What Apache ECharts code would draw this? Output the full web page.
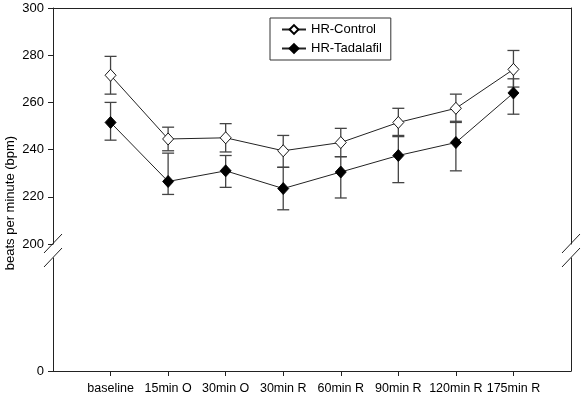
<!DOCTYPE html>
<html>
<head>
<meta charset="utf-8">
<script src="https://cdn.jsdelivr.net/npm/echarts@6/dist/echarts.min.js"></script>
<style>
html, body { margin: 0; padding: 0; background: #fff; }
#chart { width: 581px; height: 396px; }
</style>
</head>
<body>
<div id="chart"></div>
<script>
var categories = ['baseline', '15min O', '30min O', '30min R', '60min R', '90min R', '120min R', '175min R'];

var ctrlMean = [271.5, 244.5, 245, 239.5, 243, 251.5, 257.5, 274];
var ctrlHigh = [279.5, 249.5, 251, 246, 249, 257.5, 263.5, 282];
var ctrlLow  = [263.5, 239.5, 239, 232.5, 237, 246, 251.5, 266.5];

var tadMean = [251.5, 226.5, 231, 223.5, 230.5, 237.5, 243, 264];
var tadHigh = [260, 238.5, 237.5, 232.5, 237, 245.5, 252, 270];
var tadLow  = [244, 221, 224, 214.5, 219.5, 226, 231, 255];

var topTicks = [200, 300, 20];
var bottomTicks = [0];

// padded so first/last category sit one step in from the frame
var axisCats = [''].concat(categories, ['']);
var font = 'Liberation Sans, Arial, Helvetica, sans-serif';
var ink = '#222';

function points(arr) {
    return arr.map(function (v, i) { return [i + 1, v]; });
}
function bars(lo, hi) {
    return lo.map(function (v, i) { return [i + 1, v, hi[i]]; });
}

function errRender(params, api) {
    var x = api.value(0);
    var a = api.coord([x, api.value(1)]);
    var b = api.coord([x, api.value(2)]);
    var w = 6;
    var st = { stroke: '#444', lineWidth: 1.3 };
    return {
        type: 'group',
        children: [
            { type: 'line', shape: { x1: a[0], y1: a[1], x2: b[0], y2: b[1] }, style: st },
            { type: 'line', shape: { x1: a[0] - w, y1: a[1], x2: a[0] + w, y2: a[1] }, style: st },
            { type: 'line', shape: { x1: b[0] - w, y1: b[1], x2: b[0] + w, y2: b[1] }, style: st }
        ]
    };
}

function slash(x, y) {
    return { type: 'line', shape: { x1: x - 9, y1: y + 10, x2: x + 9, y2: y - 9 },
             style: { stroke: ink, lineWidth: 1 }, z: 10 };
}

var option = {
    animation: false,
    textStyle: { fontFamily: font },
    grid: [
        { left: 53, right: 10, top: 8, height: 236 },
        { left: 53, right: 10, top: 258, height: 113 }
    ],
    xAxis: [
        { type: 'category', gridIndex: 0, data: axisCats, boundaryGap: false, position: 'top',
          axisLine: { lineStyle: { color: ink } }, axisTick: { show: false }, axisLabel: { show: false } },
        { type: 'category', gridIndex: 1, data: axisCats, boundaryGap: false, position: 'bottom',
          axisLine: { lineStyle: { color: ink } },
          axisTick: { length: 5, lineStyle: { color: ink },
                      interval: function (i) { return i > 0 && i < axisCats.length - 1; } },
          axisLabel: { interval: 0, margin: 11, color: '#000', fontSize: 12.5, fontFamily: font } }
    ],
    yAxis: [
        { type: 'value', gridIndex: 0, min: topTicks[0], max: topTicks[1], interval: topTicks[2],
          axisLine: { show: true, lineStyle: { color: ink } },
          axisTick: { show: true, length: 5, lineStyle: { color: ink } },
          axisLabel: { margin: 9, color: '#000', fontSize: 13, fontFamily: font },
          splitLine: { show: false } },
        { type: 'value', gridIndex: 0, position: 'right', min: topTicks[0], max: topTicks[1],
          axisLine: { show: true, lineStyle: { color: ink } },
          axisTick: { show: false }, axisLabel: { show: false }, splitLine: { show: false } },
        { type: 'value', gridIndex: 1, min: 0, max: 1,
          axisLine: { show: true, lineStyle: { color: ink } },
          axisTick: { show: true, length: 5, lineStyle: { color: ink }, customValues: bottomTicks },
          axisLabel: { margin: 9, color: '#000', fontSize: 13, fontFamily: font, customValues: bottomTicks },
          splitLine: { show: false } },
        { type: 'value', gridIndex: 1, position: 'right', min: 0, max: 1,
          axisLine: { show: true, lineStyle: { color: ink } },
          axisTick: { show: false }, axisLabel: { show: false }, splitLine: { show: false } }
    ],
    legend: {
        left: 270, top: 18, orient: 'vertical',
        itemWidth: 24, itemHeight: 11, itemGap: 6,
        padding: [5, 9, 5, 11],
        borderColor: '#333', borderWidth: 1,
        textStyle: { fontSize: 13, color: '#000', fontFamily: font },
        data: ['HR-Control', 'HR-Tadalafil']
    },
    graphic: [
        { type: 'text', x: 10, y: 203, rotation: Math.PI / 2,
          style: { text: 'beats per minute (bpm)', font: '13px ' + font, fill: '#000',
                   textAlign: 'center', textVerticalAlign: 'middle' } },
        slash(53, 243), slash(53, 257),
        slash(571, 243), slash(571, 257)
    ],
    series: [
        { name: 'ctrlErr', type: 'custom', xAxisIndex: 0, yAxisIndex: 0, z: 1,
          renderItem: errRender, data: bars(ctrlLow, ctrlHigh) },
        { name: 'tadErr', type: 'custom', xAxisIndex: 0, yAxisIndex: 0, z: 1,
          renderItem: errRender, data: bars(tadLow, tadHigh) },
        { name: 'HR-Control', type: 'line', xAxisIndex: 0, yAxisIndex: 0, z: 3,
          symbol: 'diamond', symbolSize: [11, 12],
          lineStyle: { color: ink, width: 1 },
          itemStyle: { color: '#fff', borderColor: '#000', borderWidth: 0.9 },
          data: points(ctrlMean) },
        { name: 'HR-Tadalafil', type: 'line', xAxisIndex: 0, yAxisIndex: 0, z: 4,
          symbol: 'diamond', symbolSize: [11, 12],
          lineStyle: { color: ink, width: 1 },
          itemStyle: { color: '#000', borderColor: '#000', borderWidth: 0.9 },
          data: points(tadMean) }
    ]
};

var myChart = echarts.init(document.getElementById('chart'));
myChart.setOption(option);
</script>
</body>
</html>
